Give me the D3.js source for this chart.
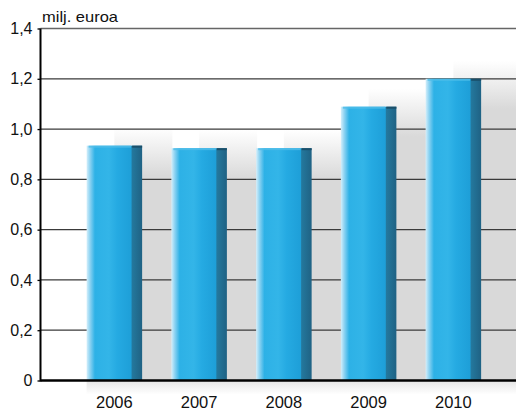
<!DOCTYPE html>
<html><head><meta charset="utf-8">
<script src="https://cdn.jsdelivr.net/npm/d3@7"></script>
<style>body{margin:0;background:#fff}svg{display:block}text{font-family:"Liberation Sans",Arial,sans-serif;fill:#111}</style>
</head><body>
<script>
const years = ["2006","2007","2008","2009","2010"];
const values = [0.934, 0.924, 0.924, 1.089, 1.20];
const yTicks = [0, 0.2, 0.4, 0.6, 0.8, 1.0, 1.2, 1.4];
const unitLabel = "milj. euroa";

const W = 516, H = 412;
const svg = d3.select("body").append("svg").attr("width", W).attr("height", H);
const defs = svg.append("defs");

const y = d3.scaleLinear().domain([0, 1.4]).range([380.5, 28.5]);
const x = d3.scaleBand().domain(years).range([72, 495.75]).paddingInner(0.345).paddingOuter(0.1725);
const axisX = 40.5, rightX = W;
const fmt = d => d3.format(".1f")(d).replace(".", ",").replace(/^0,0$/, "0");

// bar gradient
const bg = defs.append("linearGradient").attr("id", "barg").attr("x1", 0).attr("x2", 1).attr("y1", 0).attr("y2", 0);
[[0,"#d4effb"],[0.06,"#8ed3f2"],[0.15,"#2db1e6"],[0.4,"#33b5e8"],[0.55,"#25aae2"],[0.8,"#1e9fd8"],[0.82,"#24789d"],[1,"#1f6284"]]
  .forEach(([o,c]) => bg.append("stop").attr("offset", o).attr("stop-color", c));

// shadow backgrounds
const bw = x.bandwidth();
years.forEach((yr, i) => {
  const top = y(values[i]) - 18;
  const gid = "sh" + i;
  const g = defs.append("linearGradient").attr("id", gid).attr("gradientUnits", "userSpaceOnUse")
    .attr("x1", 0).attr("x2", 0).attr("y1", top).attr("y2", top + 48);
  g.append("stop").attr("offset", 0).attr("stop-color", "#ffffff");
  g.append("stop").attr("offset", 1).attr("stop-color", "#d9d9d9");
  const x0 = x(yr) + bw * 0.5;
  const x1 = i < years.length - 1 ? x(years[i + 1]) + 1 : rightX;
  svg.append("rect").attr("x", x0).attr("y", top).attr("width", x1 - x0).attr("height", y(0) - top)
    .attr("fill", `url(#${gid})`);
});

// under-baseline shadow
const ug = defs.append("linearGradient").attr("id", "ug").attr("x1", 0).attr("x2", 0).attr("y1", 0).attr("y2", 1);
ug.append("stop").attr("offset", 0).attr("stop-color", "#e4e4e4");
ug.append("stop").attr("offset", 1).attr("stop-color", "#ffffff");
svg.append("rect").attr("x", x(years[0])).attr("y", y(0)).attr("width", rightX - x(years[0])).attr("height", 14).attr("fill", "url(#ug)");

// gridlines
svg.append("g").selectAll("line").data(yTicks.filter(d => d > 0)).join("line")
  .attr("x1", axisX).attr("x2", rightX).attr("y1", d => y(d)).attr("y2", d => y(d))
  .attr("stroke", d => d === 1.4 ? "#666" : "#3a3a3a").attr("stroke-width", 1.3);

// bars
const bars = svg.append("g").selectAll("g").data(years).join("g");
bars.append("rect").attr("x", d => x(d)).attr("y", (d, i) => y(values[i]))
  .attr("width", bw).attr("height", (d, i) => y(0) - y(values[i])).attr("fill", "url(#barg)");
bars.append("rect").attr("x", d => x(d) + 2).attr("y", (d, i) => y(values[i]))
  .attr("width", bw * 0.8 - 2).attr("height", 2).attr("fill", "#4fbde9").attr("opacity", 0.8);
bars.append("rect").attr("x", d => x(d) + bw * 0.82).attr("y", (d, i) => y(values[i]))
  .attr("width", bw * 0.18).attr("height", 2).attr("fill", "#1a4f6a");

// baseline
svg.append("line").attr("x1", axisX).attr("x2", rightX).attr("y1", y(0)).attr("y2", y(0))
  .attr("stroke", "#000").attr("stroke-width", 2.5);

// y axis
const yAxis = d3.axisLeft(y).tickValues(yTicks).tickSize(3).tickPadding(5).tickFormat(fmt);
const ga = svg.append("g").attr("transform", `translate(${axisX},0)`).call(yAxis);
ga.select(".domain").attr("d", `M0,${y(1.4)}V${y(0) + 1}`).attr("stroke", "#000").attr("stroke-width", 2);
ga.selectAll(".tick line").attr("stroke", "#000").attr("stroke-width", 1.3);
ga.selectAll(".tick text").attr("font-size", 16).attr("fill", "#111").attr("font-family", '"Liberation Sans",Arial,sans-serif');

// x labels
const xAxis = d3.axisBottom(x).tickSize(0).tickPadding(0);
const gx = svg.append("g").attr("transform", `translate(0,${y(0)})`).call(xAxis);
gx.select(".domain").remove();
gx.selectAll(".tick text").attr("font-size", 16.5).attr("dy", 0).attr("y", 27).attr("fill", "#111")
  .attr("font-family", '"Liberation Sans",Arial,sans-serif');

// unit label
svg.append("text").attr("x", 42).attr("y", 21.5).attr("font-size", 14.5).attr("textLength", 76)
  .attr("lengthAdjust", "spacingAndGlyphs").text(unitLabel);
</script>
</body></html>
